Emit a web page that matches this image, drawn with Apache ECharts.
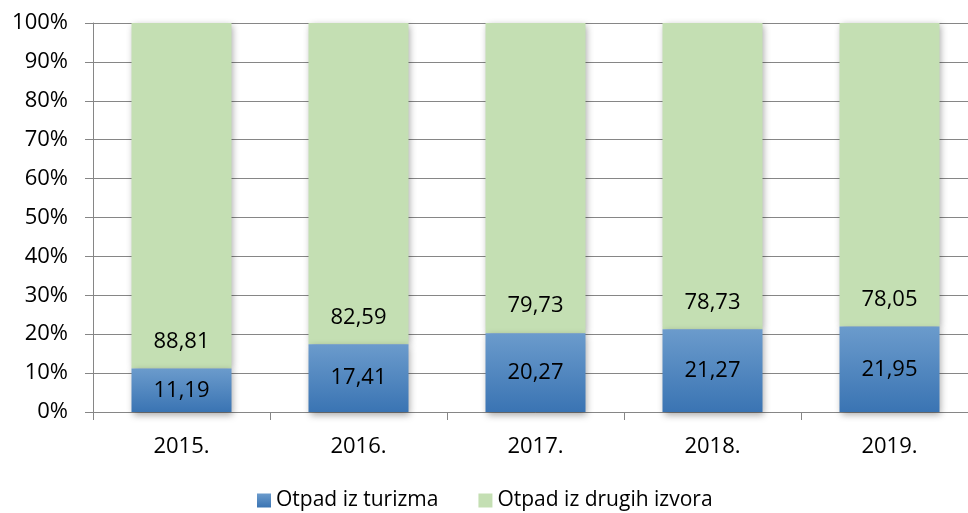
<!DOCTYPE html>
<html>
<head>
<meta charset="utf-8">
<script src="https://cdn.jsdelivr.net/npm/echarts@6/dist/echarts.min.js"></script>
<style>
  html, body { margin: 0; padding: 0; background: #fff; overflow: hidden; }
  /* the plot area runs a little past the visible right edge */
  #chart { width: 978px; height: 513px; }
</style>
</head>
<body>
<div id="chart"></div>
<script>
// Share of waste by source, per year (percent)
const years = ['2015.', '2016.', '2017.', '2018.', '2019.'];
const tourismWaste = [11.19, 17.41, 20.27, 21.27, 21.95];
const otherWaste = [88.81, 82.59, 79.73, 78.73, 78.05];
const seriesNames = ['Otpad iz turizma', 'Otpad iz drugih izvora'];

const FONT = '"Open Sans", "Noto Sans", sans-serif';
const gridColor = '#868686';

const fmt = v => v.toFixed(2).replace('.', ',');

const blueFill = new echarts.graphic.LinearGradient(0, 0, 0, 1, [
  { offset: 0, color: '#6b9bcc' },
  { offset: 1, color: '#3a74b3' }
]);

const chart = echarts.init(document.getElementById('chart'), null, { renderer: 'canvas' });
chart.setOption({
  animation: false,
  textStyle: { fontFamily: FONT },
  grid: { left: 93, top: 23, right: 0, bottom: 101, containLabel: false },
  legend: {
    top: 490,
    left: 257,
    padding: 0,
    itemWidth: 14,
    itemHeight: 14,
    itemGap: 40,
    icon: 'rect',
    textStyle: { fontFamily: FONT, fontSize: 21, color: '#000' },
    data: seriesNames
  },
  xAxis: {
    type: 'category',
    data: years,
    axisLine: { lineStyle: { color: gridColor } },
    axisTick: { show: true, length: 8, lineStyle: { color: gridColor } },
    axisLabel: { color: '#000', fontSize: 22, fontFamily: FONT, margin: 24 }
  },
  yAxis: {
    type: 'value',
    min: 0,
    max: 100,
    interval: 10,
    axisLine: { show: true, lineStyle: { color: gridColor } },
    axisTick: { show: true, length: 8, lineStyle: { color: gridColor } },
    axisLabel: { color: '#000', fontSize: 22, fontFamily: FONT, margin: 25, formatter: v => v + '%' },
    splitLine: { lineStyle: { color: gridColor, width: 1 } }
  },
  series: [
    {
      name: seriesNames[0],
      type: 'bar',
      stack: 'total',
      barWidth: 100,
      z: 3,
      data: tourismWaste,
      itemStyle: {
        color: blueFill,
        shadowBlur: 7,
        shadowColor: 'rgba(0,0,0,0.35)',
        shadowOffsetX: 1,
        shadowOffsetY: 3
      },
      label: {
        show: true,
        position: 'inside',
        color: '#000',
        fontSize: 22,
        fontFamily: FONT,
        formatter: p => fmt(p.value)
      }
    },
    {
      name: seriesNames[1],
      type: 'bar',
      stack: 'total',
      barWidth: 100,
      z: 2,
      data: otherWaste,
      itemStyle: {
        color: '#c4dfb3',
        shadowBlur: 7,
        shadowColor: 'rgba(0,0,0,0.35)',
        shadowOffsetX: 1,
        shadowOffsetY: 2
      },
      label: {
        show: true,
        position: 'insideBottom',
        distance: 16,
        color: '#000',
        fontSize: 22,
        fontFamily: FONT,
        formatter: p => fmt(p.value)
      }
    }
  ]
});
</script>
</body>
</html>
